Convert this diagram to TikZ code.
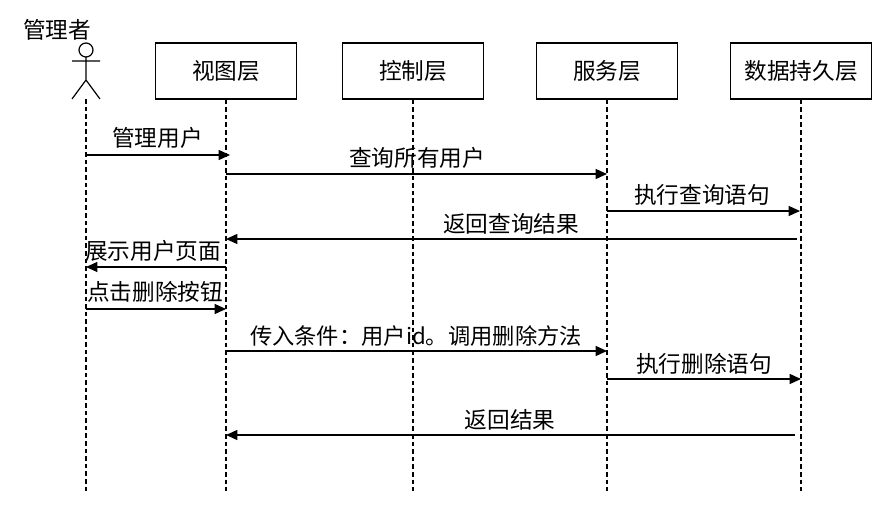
\documentclass[tikz,border=0pt]{standalone}
\usepackage{fontspec}
\setmainfont{Noto Sans CJK SC}
\usetikzlibrary{arrows.meta}
\tikzset{
 px/.style={x=0.75pt,y=-0.75pt},
 lifebox/.style={draw,line width=0.9pt,minimum width=105.75pt,minimum height=42pt,inner sep=0pt,font=\fontsize{17pt}{18pt}\selectfont},
 lifeline/.style={line width=0.9pt,dash pattern=on 3.4pt off 2.3pt},
 msg/.style={line width=0.9pt,-{Triangle[length=8.5pt,width=7.5pt]}},
 lbl/.style={inner sep=0pt,font=\fontsize{17pt}{18pt}\selectfont}
}
\begin{document}
\begin{tikzpicture}[px]
\useasboundingbox (0,0) rectangle (886,506);
\node[lbl] (actorname) at (57,29.5) {管理者};
\draw[line width=0.9pt] (86,50) circle (7);
\coordinate (neck) at (86,57);
\coordinate (hip) at (86,80);
\coordinate (a0) at (86,99);
\draw[line width=0.9pt] (neck) -- (hip) (72,61) -- (100,61) (72,99) -- (hip) -- (100,99);
\node[lifebox] (v) at (226,71) {视图层};
\node[lifebox] (c) at (413,71) {控制层};
\node[lifebox] (s) at (607,71) {服务层};
\node[lifebox] (d) at (801,71) {数据持久层};
\coordinate (a1) at (86,491); \coordinate (v1) at (226,491); \coordinate (c1) at (413,491); \coordinate (s1) at (607,491); \coordinate (d1) at (801,491);
\draw[lifeline] (a0) -- (a1);
\draw[lifeline] (v) -- (v1);
\draw[lifeline] (c) -- (c1);
\draw[lifeline] (s) -- (s1);
\draw[lifeline] (d) -- (d1);
\foreach \xa/\xb/\y/\t/\lx/\ly in {
 86/230/155/管理用户/157.5/138,
 226/607/174/查询所有用户/417/157.5,
 607/800/211/执行查询语句/702/195,
 797/226/239/返回查询结果/511/224,
 226/86/267/展示用户页面/153/251,
 86/226/309/点击删除按钮/155/292,
 226/607/351/{\fontsize{16.7pt}{18pt}\selectfont 传入条件：用户id。调用删除方法}/416/336,
 607/801/379/执行删除语句/704/364,
 795/226/435/返回结果/510/420}{
 \coordinate (p) at (\xa,\y); \coordinate (q) at (\xb,\y);
 \draw[msg] (p) -- (q);
 \node[lbl] at (\lx,\ly) {\t};
}
\end{tikzpicture}
\end{document}
